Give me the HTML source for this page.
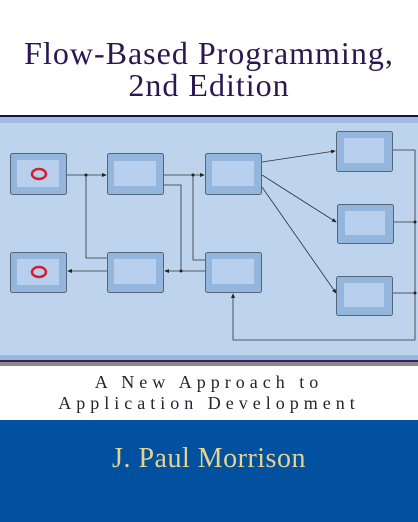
<!DOCTYPE html>
<html><head><meta charset="utf-8"><style>
html,body{margin:0;padding:0;width:418px;height:522px;overflow:hidden;background:#fff;}
.t{position:absolute;left:0;width:418px;text-align:center;font-family:"Liberation Serif",serif;white-space:nowrap;}
</style></head><body>
<div class="t" style="top:37px;font-size:32px;line-height:32px;letter-spacing:1px;color:#2c1650;">Flow-Based Programming,<br>2nd Edition</div>
<svg style="position:absolute;left:0;top:0" width="418" height="522">
<rect x="0" y="115" width="418" height="2" fill="#1c1040"/>
<rect x="0" y="117" width="418" height="6" fill="#9dbde0"/>
<rect x="0" y="123" width="418" height="232" fill="#bed3ec"/>
<rect x="0" y="355" width="418" height="5" fill="#98b8dc"/>
<rect x="0" y="360" width="418" height="2" fill="#3a2060"/>
<rect x="0" y="362" width="418" height="4" fill="#8a8a8a"/>
<rect x="0" y="420" width="418" height="102" fill="#0151a0"/>
<defs><marker id="a" markerWidth="6" markerHeight="6" refX="5" refY="3" orient="auto"><path d="M0,0.5L6,3L0,5.5z" fill="#222"/></marker></defs>
<g fill="#94b6dd" stroke="#55667a" stroke-width="1">
<rect x="10.5" y="153.5" width="56" height="41" rx="2"/>
<rect x="107.5" y="153.5" width="56" height="41" rx="2"/>
<rect x="205.5" y="153.5" width="56" height="41" rx="2"/>
<rect x="10.5" y="252.5" width="56" height="40" rx="2"/>
<rect x="107.5" y="252.5" width="56" height="40" rx="2"/>
<rect x="205.5" y="252.5" width="56" height="40" rx="2"/>
<rect x="336.5" y="131.5" width="56" height="40" rx="2"/>
<rect x="337.5" y="204.5" width="56" height="39" rx="2"/>
<rect x="336.5" y="276.5" width="56" height="39" rx="2"/>
</g>
<g fill="#b8d0ee">
<rect x="17" y="160" width="42" height="27"/>
<rect x="114" y="161" width="42" height="25"/>
<rect x="212" y="161" width="42" height="25"/>
<rect x="17" y="259" width="42" height="26"/>
<rect x="114" y="259" width="42" height="25"/>
<rect x="212" y="259" width="42" height="25"/>
<rect x="344" y="138" width="40" height="25"/>
<rect x="345" y="211" width="40" height="24"/>
<rect x="344" y="283" width="40" height="24"/>
</g>
<ellipse cx="39" cy="174" rx="7" ry="5" fill="none" stroke="#d0202e" stroke-width="2.5"/>
<ellipse cx="39" cy="272" rx="7" ry="5" fill="none" stroke="#d0202e" stroke-width="2.5"/>
<g stroke="#333" stroke-width="0.8" fill="none">
<path d="M67,175H106" marker-end="url(#a)"/>
<path d="M86,175V258H107"/>
<path d="M164,175H204" marker-end="url(#a)"/>
<path d="M193,175V260H205"/>
<path d="M164,185H181V271"/>
<path d="M205,271H165" marker-end="url(#a)"/>
<path d="M107,271H68" marker-end="url(#a)"/>
<path d="M262,162L335,151" marker-end="url(#a)"/>
<path d="M262,175L336,222" marker-end="url(#a)"/>
<path d="M262,187L336,293" marker-end="url(#a)"/>
<path d="M393,150H415V340H233V294" marker-end="url(#a)"/>
<path d="M394,222H415M393,293H415"/>
</g>
<g fill="#222"><circle cx="86" cy="175" r="1.5"/><circle cx="193" cy="175" r="1.5"/><circle cx="181" cy="271" r="1.5"/><circle cx="415" cy="222" r="1.5"/><circle cx="415" cy="293" r="1.5"/></g>
</svg>
<div class="t" style="top:372px;font-size:18px;line-height:21px;letter-spacing:5px;color:#2a2030;">A New Approach to<br>Application Development</div>
<div class="t" style="top:444px;font-size:28px;line-height:30px;letter-spacing:0.5px;color:#e6d38c;">J. Paul Morrison</div>
</body></html>
